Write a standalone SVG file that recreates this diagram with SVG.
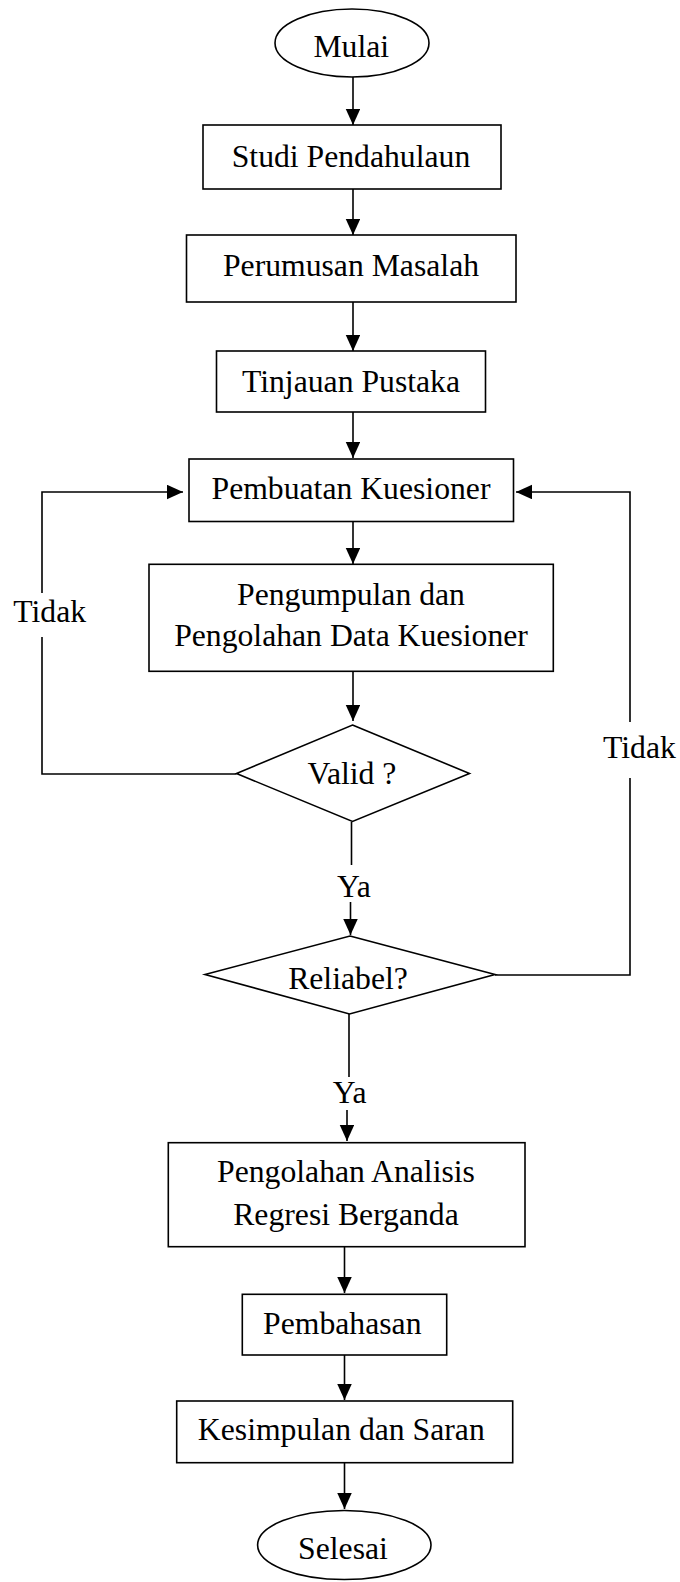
<svg xmlns="http://www.w3.org/2000/svg" width="680" height="1582" viewBox="0 0 680 1582">
<style>
.s{fill:#fff;stroke:#000;stroke-width:1.6}
.c{fill:none;stroke:#000;stroke-width:1.6}
text{font-family:"Liberation Serif","Times New Roman",serif;font-size:31.7px;fill:#000}
.m{text-anchor:middle}
</style>
<defs>
<marker id="ah" markerUnits="userSpaceOnUse" markerWidth="16" markerHeight="15" refX="16" refY="7.25" orient="auto">
<path d="M0,0 L16,7.25 L0,14.5 z" fill="#000"/>
</marker>
</defs>
<rect width="680" height="1582" fill="#fff"/>
<g id="connectors">
<path class="c" d="M353 77 V125" marker-end="url(#ah)"/>
<path class="c" d="M353 189 V235" marker-end="url(#ah)"/>
<path class="c" d="M353 302 V351" marker-end="url(#ah)"/>
<path class="c" d="M353 412 V458" marker-end="url(#ah)"/>
<path class="c" d="M353 522 V564" marker-end="url(#ah)"/>
<path class="c" d="M353 672 V721" marker-end="url(#ah)"/>
<path class="c" d="M351.5 822 V865"/>
<path class="c" d="M350.5 902 V935" marker-end="url(#ah)"/>
<path class="c" d="M236.5 774 H42 V637"/>
<path class="c" d="M42 593 V492 H183" marker-end="url(#ah)"/>
<path class="c" d="M495 975 H630 V778"/>
<path class="c" d="M630 722 V492 H516" marker-end="url(#ah)"/>
<path class="c" d="M349 1014 V1077"/>
<path class="c" d="M347 1110 V1141" marker-end="url(#ah)"/>
<path class="c" d="M344.5 1247 V1293" marker-end="url(#ah)"/>
<path class="c" d="M344.5 1355 V1400" marker-end="url(#ah)"/>
<path class="c" d="M344.5 1463 V1509" marker-end="url(#ah)"/>
<text x="13.3" y="621.7">Tidak</text>
<text x="603" y="758">Tidak</text>
<text class="m" x="354" y="897">Ya</text>
<text class="m" x="349.7" y="1103">Ya</text>
</g>
<g id="mulai"><ellipse class="s" cx="352" cy="43" rx="77" ry="34"/><text class="m" x="351.3" y="56.7">Mulai</text></g>
<g id="studi"><rect class="s" x="203" y="125" width="298" height="64"/><text class="m" x="351" y="166.7">Studi Pendahulaun</text></g>
<g id="perumusan"><rect class="s" x="186.5" y="235" width="329.5" height="67"/><text class="m" x="351" y="276">Perumusan Masalah</text></g>
<g id="tinjauan"><rect class="s" x="216.5" y="351" width="269" height="61"/><text class="m" x="351" y="391.7">Tinjauan Pustaka</text></g>
<g id="pembuatan"><rect class="s" x="189" y="459" width="324.5" height="62.5"/><text class="m" x="351" y="499">Pembuatan Kuesioner</text></g>
<g id="pengumpulan"><rect class="s" x="149" y="564.3" width="404.3" height="107"/><text class="m" x="351" y="605">Pengumpulan dan</text><text class="m" x="351" y="645.7">Pengolahan Data Kuesioner</text></g>
<g id="valid"><polygon class="s" points="352.5,725 469.5,773.5 352.5,821.5 236.5,773.5"/><text class="m" x="352" y="784">Valid ?</text></g>
<g id="reliabel"><polygon class="s" points="350,936 495,974.5 349.5,1014 205,974.5"/><text class="m" x="348" y="989">Reliabel?</text></g>
<g id="pengolahan"><rect class="s" x="168.3" y="1142.7" width="356.7" height="104"/><text class="m" x="346" y="1181.7">Pengolahan Analisis</text><text class="m" x="346" y="1225">Regresi Berganda</text></g>
<g id="pembahasan"><rect class="s" x="242.3" y="1294.3" width="204.4" height="60.7"/><text class="m" x="342.3" y="1334.3">Pembahasan</text></g>
<g id="kesimpulan"><rect class="s" x="176.7" y="1401" width="336" height="61.7"/><text class="m" x="341.3" y="1440">Kesimpulan dan Saran</text></g>
<g id="selesai"><ellipse class="s" cx="344.3" cy="1545" rx="86.7" ry="34.5"/><text class="m" x="343" y="1558.5">Selesai</text></g>
</svg>
